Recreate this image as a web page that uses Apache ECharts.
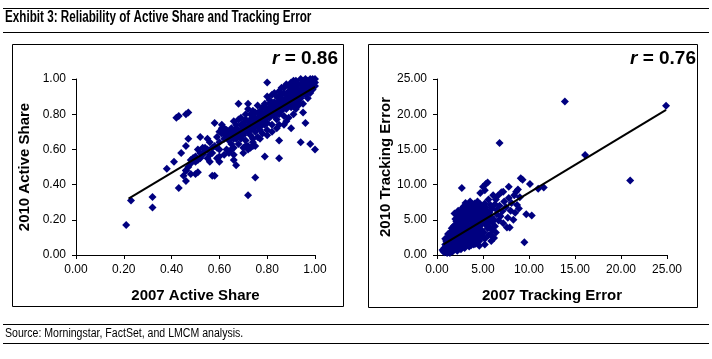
<!DOCTYPE html>
<html><head><meta charset="utf-8">
<script src="https://cdn.jsdelivr.net/npm/echarts@6/dist/echarts.min.js"></script>
<style>html,body{margin:0;padding:0;background:#fff}#c{width:712px;height:359px}</style>
</head><body><div id="c"></div>
<script>
var titleText = "Exhibit 3: Reliability of Active Share and Tracking Error";
var sourceText = "Source: Morningstar, FactSet, and LMCM analysis.";
var leftXName = "2007 Active Share", leftYName = "2010 Active Share", leftR = "0.86";
var rightXName = "2007 Tracking Error", rightYName = "2010 Tracking Error", rightR = "0.76";

var activeShare = [
[0.21,0.17],[0.23,0.31],[0.32,0.33],[0.32,0.27],[0.38,0.49],[0.41,0.53],[0.43,0.38],[0.42,0.78],[0.43,0.79],
[0.46,0.80],[0.47,0.81],[0.44,0.58],[0.47,0.66],[0.46,0.62],[0.46,0.48],[0.45,0.45],[0.46,0.42],[0.48,0.46],
[0.50,0.46],[0.51,0.47],[0.48,0.54],[0.49,0.55],[0.51,0.60],[0.52,0.67],[0.53,0.61],[0.54,0.61],[0.55,0.66],
[0.55,0.55],[0.56,0.53],[0.57,0.45],[0.58,0.45],[0.58,0.75],[0.59,0.55],[0.60,0.53],[0.61,0.72],[0.60,0.70],
[0.60,0.60],[0.68,0.86],[0.72,0.86],[0.66,0.54],[0.67,0.51],[0.72,0.34],[0.75,0.44],[0.79,0.56],[0.80,0.98],
[0.85,0.55],[0.85,0.65],[0.94,0.64],[0.98,0.63],[1.00,0.60],[0.96,0.75],[0.90,0.72],[0.83,0.92],[0.91,0.99],
[0.95,0.99],[1.00,1.00],[0.74,0.66],
[0.58,0.62],[0.60,0.64],[0.61,0.69],[0.62,0.66],[0.62,0.72],[0.63,0.60],[0.63,0.68],[0.64,0.65],[0.64,0.70],
[0.65,0.63],[0.65,0.67],[0.65,0.72],[0.66,0.69],[0.66,0.61],[0.67,0.66],[0.67,0.71],[0.67,0.74],[0.68,0.68],
[0.68,0.63],[0.68,0.77],[0.69,0.70],[0.69,0.66],[0.70,0.72],[0.70,0.61],[0.70,0.75],[0.70,0.68],[0.71,0.73],
[0.71,0.65],[0.71,0.80],[0.72,0.70],[0.72,0.76],[0.72,0.62],[0.73,0.74],[0.73,0.68],[0.73,0.80],[0.74,0.72],
[0.74,0.77],[0.74,0.64],[0.75,0.75],[0.75,0.70],[0.75,0.81],[0.76,0.73],[0.76,0.78],[0.76,0.67],[0.77,0.76],
[0.77,0.82],[0.77,0.71],[0.78,0.79],[0.78,0.74],[0.78,0.84],[0.78,0.69],[0.79,0.77],[0.79,0.81],[0.79,0.86],
[0.80,0.80],[0.80,0.75],[0.80,0.83],[0.80,0.71],[0.81,0.82],[0.81,0.78],[0.81,0.88],[0.82,0.80],[0.82,0.85],
[0.82,0.74],[0.83,0.83],[0.83,0.79],[0.83,0.87],[0.84,0.81],[0.84,0.86],[0.84,0.77],[0.85,0.84],[0.85,0.89],
[0.85,0.80],[0.85,0.74],[0.86,0.86],[0.86,0.82],[0.86,0.91],[0.87,0.85],[0.87,0.88],[0.87,0.79],[0.88,0.87],
[0.88,0.91],[0.88,0.83],[0.88,0.76],[0.89,0.89],[0.89,0.85],[0.89,0.93],[0.90,0.88],[0.90,0.91],[0.90,0.84],
[0.90,0.95],[0.91,0.90],[0.91,0.86],[0.91,0.93],[0.92,0.92],[0.92,0.88],[0.92,0.96],[0.92,0.83],[0.93,0.91],
[0.93,0.94],[0.93,0.87],[0.94,0.93],[0.94,0.97],[0.94,0.89],[0.95,0.92],[0.95,0.95],[0.95,0.86],[0.96,0.94],
[0.96,0.98],[0.96,0.91],[0.97,0.96],[0.97,0.93],[0.97,0.99],[0.98,0.95],[0.98,0.98],[0.98,0.92],[0.99,0.97],
[0.99,1.00],[0.99,0.94],[1.00,0.98],[1.00,0.96],[0.97,0.89],[0.95,0.81],[0.93,0.85],[0.91,0.80],[0.89,0.78],
[0.87,0.74],[0.84,0.72],[0.82,0.70],[0.80,0.68],[0.77,0.66],[0.75,0.62],[0.73,0.61],[0.70,0.58],[0.66,0.57],
[0.64,0.59],[0.62,0.57],[0.60,0.56],[0.57,0.58],[0.55,0.60],[0.53,0.57],[0.52,0.55],[0.51,0.54],[0.50,0.53],
[0.49,0.55],[0.48,0.52],[0.47,0.50],[0.46,0.48],[0.56,0.64],[0.59,0.67],[0.61,0.74],[0.66,0.76],[0.69,0.78],
[0.72,0.83],[0.74,0.82],[0.76,0.85],[0.80,0.90],[0.82,0.91],[0.85,0.93],[0.87,0.95],[0.88,0.97],[0.90,0.98],
[0.92,0.99],[0.94,1.00],[0.96,1.00],[0.98,1.00],[0.86,0.95],[0.84,0.90],[0.81,0.86],[0.79,0.84],[0.77,0.80],
[0.74,0.79],[0.71,0.77],[0.69,0.74],[0.67,0.72],[0.65,0.70],[0.63,0.71],[0.62,0.69],[0.59,0.61],[0.57,0.61],
[0.56,0.57],[0.54,0.59],[0.52,0.58],[0.50,0.56],[0.92,0.85],[0.94,0.90],[0.96,0.96],[0.98,0.97],[0.99,0.99],
[0.89,0.91],[0.86,0.88],[0.83,0.85],[0.81,0.84],[0.79,0.79],[0.76,0.76],[0.73,0.71],[0.71,0.70],[0.68,0.71],
[0.66,0.66],[0.64,0.67],[0.92,0.94],[0.95,0.97],[0.97,0.98],[0.90,0.93],[0.88,0.89],[0.86,0.84],[0.84,0.84],
[0.82,0.82],[0.80,0.78],[0.78,0.76],[0.91,0.96],[0.93,0.97],[0.89,0.96],[0.87,0.92],[0.85,0.87],[0.83,0.81],
[0.81,0.80],[0.79,0.74],[0.77,0.73],[0.75,0.73],[0.73,0.77],[0.72,0.73],[0.70,0.70],[0.71,0.62],[0.74,0.62],
[0.72,0.60],[0.64,0.58],[0.65,0.60]
];
var activeShareTrend = [[0.22,0.32],[1.00,0.955]];

var trackingError = [
[13.9,21.8],[24.9,21.2],[6.8,15.9],[16.1,14.2],[21.0,10.6],[11.6,9.6],[11.0,9.4],[10.1,10.1],[9.1,10.9],
[9.3,10.7],[10.3,5.6],[9.7,5.8],[9.5,1.8],[7.9,3.9],[7.8,9.7],[7.2,9.0],[8.8,9.3],[8.6,9.0],[2.7,9.5],
[5.0,9.7],[5.3,10.1],[5.5,10.3],[4.7,8.8],[5.2,9.2],
[0.6,0.7],[0.7,0.5],[0.8,1.0],[0.9,0.6],[1.0,1.3],[1.0,0.8],[1.1,1.7],[1.1,0.4],[1.2,1.1],[1.2,2.0],
[1.3,0.9],[1.3,1.5],[1.4,2.4],[1.4,1.2],[1.5,0.7],[1.5,1.9],[1.6,2.8],[1.6,1.4],[1.7,1.0],[1.7,2.2],
[1.8,3.1],[1.8,1.7],[1.9,0.8],[1.9,2.5],[2.0,1.3],[2.0,3.4],[2.0,2.0],[2.1,1.6],[2.1,2.8],[2.2,4.0],
[2.2,1.1],[2.3,2.3],[2.3,3.2],[2.4,1.8],[2.4,4.5],[2.4,0.9],[2.5,2.7],[2.5,3.7],[2.5,5.3],[2.6,1.5],
[2.6,2.1],[2.7,3.0],[2.7,4.2],[2.8,1.2],[2.8,2.6],[2.8,5.8],[2.9,3.5],[2.9,1.9],[3.0,2.4],[3.0,4.7],
[3.0,6.4],[3.1,3.1],[3.1,1.5],[3.2,3.9],[3.2,2.2],[3.2,5.2],[3.3,2.8],[3.3,7.0],[3.4,4.3],[3.4,1.8],
[3.5,3.4],[3.5,5.6],[3.5,2.5],[3.6,6.6],[3.6,4.0],[3.7,3.0],[3.7,1.4],[3.8,4.8],[3.8,2.1],[3.9,3.7],
[3.9,7.2],[4.0,5.3],[4.0,2.7],[4.0,4.2],[4.1,6.1],[4.1,3.3],[4.2,1.6],[4.2,4.6],[4.3,5.7],[4.3,2.4],
[4.4,3.9],[4.4,7.6],[4.5,5.0],[4.5,3.0],[4.6,6.5],[4.6,2.0],[4.7,4.4],[4.8,5.5],[4.8,3.6],[4.9,6.9],
[4.9,2.6],[5.0,4.8],[5.1,5.9],[5.1,3.2],[5.2,7.3],[5.2,1.5],[5.3,4.3],[5.4,6.3],[5.5,5.2],[5.5,3.8],
[5.6,7.9],[5.6,4.6],[5.7,6.0],[5.8,2.9],[5.9,5.4],[6.0,6.6],[6.0,3.5],[6.1,8.5],[6.2,5.0],[6.3,7.2],
[6.3,4.1],[6.5,5.8],[6.5,6.4],[6.6,8.4],[6.7,4.9],[6.8,7.0],[6.9,5.5],[7.0,8.9],[7.1,6.2],[7.2,4.5],
[7.3,7.6],[7.5,6.8],[7.6,3.9],[7.7,5.3],[7.8,8.1],[8.0,6.3],[8.1,7.4],[8.3,5.0],[8.4,8.5],[8.5,6.0],
[8.7,7.1],[8.9,6.6],[9.0,8.2],
[0.9,2.3],[1.2,3.0],[1.5,3.3],[1.8,4.1],[2.1,4.8],[2.3,5.5],[2.6,6.2],[2.9,6.9],[3.1,7.4],[3.4,6.0],
[3.7,5.1],[4.1,7.3],[4.3,6.8],[1.0,2.0],[1.3,2.6],[1.6,3.8],[2.0,4.3],[2.2,3.7],[2.7,5.0],[3.0,5.6],
[3.3,4.9],[3.6,5.9],[3.8,6.5],[4.2,5.4],[4.5,4.1],[4.8,4.3],[5.1,4.7],[5.4,5.5],[5.7,4.0],[6.0,4.7],
[3.0,1.0],[3.5,1.2],[2.6,0.8],[2.2,0.6],[1.7,0.5],[4.0,1.5],[4.6,1.3],[5.2,2.3],[5.6,2.8],[6.2,2.4],
[6.4,3.2],[5.9,2.0],[1.4,0.3],[1.1,0.3],[0.8,0.4],[2.4,3.3],[2.9,4.1],[3.2,4.5],[3.9,4.3],[4.4,5.2],
[4.9,5.6],[5.3,6.7],[5.8,7.1],[6.4,7.9],[3.6,7.6],[3.1,6.0],[2.8,6.7],[2.3,6.3],[2.0,5.1],[1.9,5.9],
[1.0,1.0],[1.2,1.5],[1.4,1.8],[1.6,2.0],[1.8,2.4],[2.0,2.7],[2.2,3.0],[2.4,2.5],[2.6,3.4],[2.8,3.9],
[3.0,3.3],[3.2,3.6],[3.4,3.1],[3.6,3.5],[3.8,4.1],[4.0,3.6],[4.2,3.9],[4.4,4.6],[4.6,4.8],[4.8,5.1],
[5.0,5.4],[5.2,5.0],[5.4,4.4],[3.3,3.8],[2.5,4.4],[2.1,3.5],[1.7,2.9],[1.5,2.5],[1.3,2.1],[1.1,1.2],
[0.9,1.5],[2.7,2.3],[3.1,2.7],[3.5,2.9],[3.9,2.4],[4.3,3.5],[4.7,3.1],[2.9,5.3],[3.4,5.4],[3.9,5.8],
[4.5,6.0],[5.0,6.2],[2.3,4.0],[1.9,3.7],[1.6,3.2],[3.7,6.9],[4.2,6.6],[2.6,5.7],[3.2,6.6],[4.7,7.2]
];
var trackingErrorTrend = [[0.7,1.5],[24.9,20.6]];

var leftTicks = {min:0, max:1, interval:0.2};
var rightTicks = {min:0, max:25, interval:5};

var FONT = "Arial, 'Liberation Sans', sans-serif";
var chart = echarts.init(document.getElementById('c'), null, {renderer:'canvas'});

function axisX(idx, t, name){
  return {type:'value', gridIndex:idx, min:t.min, max:t.max, interval:t.interval,
    name:name, nameLocation:'middle', nameGap:33,
    nameTextStyle:{fontFamily:FONT, fontWeight:'bold', fontSize:15, color:'#000'},
    axisLine:{show:true, onZero:false, lineStyle:{color:'#000', width:1}},
    axisTick:{show:true, length:4, lineStyle:{color:'#000'}},
    axisLabel:{fontFamily:FONT, fontSize:12, color:'#000', margin:9, formatter:function(v){return v.toFixed(2);}},
    splitLine:{show:false}};
}
function axisY(idx, t, name){
  return {type:'value', gridIndex:idx, min:t.min, max:t.max, interval:t.interval,
    name:name, nameLocation:'middle', nameGap:44, nameRotate:90,
    nameTextStyle:{fontFamily:FONT, fontWeight:'bold', fontSize:15, color:'#000'},
    axisLine:{show:true, onZero:false, lineStyle:{color:'#000', width:1}},
    axisTick:{show:true, length:4, lineStyle:{color:'#000'}},
    axisLabel:{fontFamily:FONT, fontSize:12, color:'#000', margin:10, formatter:function(v){return v.toFixed(2);}},
    splitLine:{show:false}};
}
function rText(x, y, val){
  return {type:'text', right:x, top:y, style:{rich:{i:{fontFamily:FONT, fontStyle:'italic', fontWeight:'bold', fontSize:19, fill:'#000'},
    b:{fontFamily:FONT, fontWeight:'bold', fontSize:19, fill:'#000'}},
    text:'{i|r}{b| = '+val+'}'}};
}

chart.setOption({
  animation:false,
  backgroundColor:'#fff',
  grid:[
    {left:76, top:79, width:239, height:176},
    {left:437, top:79, width:230, height:176}
  ],
  xAxis:[axisX(0, leftTicks, leftXName), axisX(1, rightTicks, rightXName)],
  yAxis:[axisY(0, leftTicks, leftYName), axisY(1, rightTicks, rightYName)],
  series:[
    {type:'scatter', xAxisIndex:0, yAxisIndex:0, data:activeShare, symbol:'diamond', symbolSize:8,
     itemStyle:{color:'#000080', opacity:1}},
    {type:'line', xAxisIndex:0, yAxisIndex:0, data:activeShareTrend, symbol:'none',
     lineStyle:{color:'#000', width:2}, z:5},
    {type:'scatter', xAxisIndex:1, yAxisIndex:1, data:trackingError, symbol:'diamond', symbolSize:8,
     itemStyle:{color:'#000080', opacity:1}},
    {type:'line', xAxisIndex:1, yAxisIndex:1, data:trackingErrorTrend, symbol:'none',
     lineStyle:{color:'#000', width:2}, z:5}
  ],
  graphic:[
    {type:'line', shape:{x1:3, y1:8.5, x2:709, y2:8.5}, style:{stroke:'#000', lineWidth:1}},
    {type:'text', x:5, y:10, scaleX:0.73, style:{text:titleText, fontFamily:FONT, fontWeight:'bold', fontSize:16, fill:'#000'}},
    {type:'line', shape:{x1:3, y1:32.5, x2:709, y2:32.5}, style:{stroke:'#000', lineWidth:1}},
    {type:'rect', shape:{x:12.5, y:44.5, width:331, height:262}, style:{fill:'none', stroke:'#000', lineWidth:1}},
    {type:'rect', shape:{x:368.5, y:44.5, width:329, height:263}, style:{fill:'none', stroke:'#000', lineWidth:1}},
    rText(374, 49, leftR),
    rText(16, 49, rightR),
    {type:'line', shape:{x1:3, y1:324.5, x2:709, y2:324.5}, style:{stroke:'#000', lineWidth:1}},
    {type:'text', x:5, y:328, scaleX:0.88, style:{text:sourceText, fontFamily:FONT, fontSize:12, fill:'#000'}},
    {type:'line', shape:{x1:3, y1:343.5, x2:709, y2:343.5}, style:{stroke:'#000', lineWidth:1}}
  ]
});
</script></body></html>
